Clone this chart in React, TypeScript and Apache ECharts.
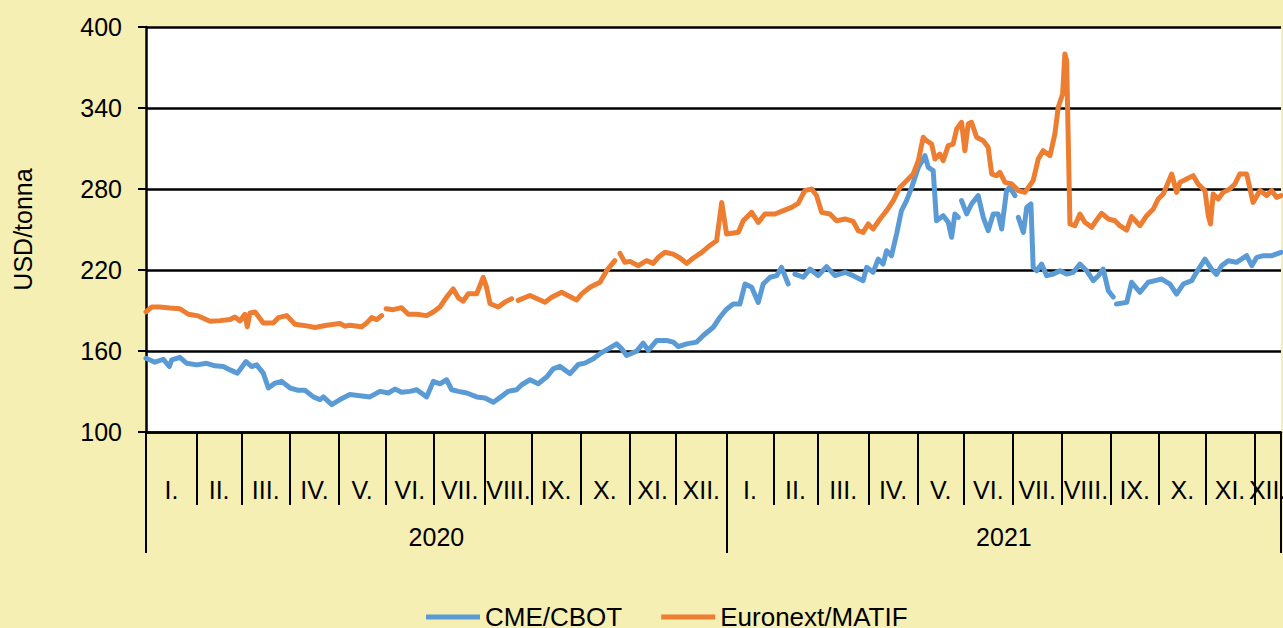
import React, { useEffect, useRef } from "react";
import * as echarts from "echarts";

// Weekdays per month, Jan 2020 .. mid-Dec 2021 (x axis unit = trading day)
const monthDays = [23, 20, 22, 22, 21, 22, 23, 21, 22, 22, 21, 23, 21, 20, 23, 22, 21, 22, 22, 22, 22, 21, 22, 12];
const monthNames = ["I.", "II.", "III.", "IV.", "V.", "VI.", "VII.", "VIII.", "IX.", "X.", "XI.", "XII."];
const years = ["2020", "2021"];
const yTicks = [100, 160, 220, 280, 340, 400];

// [trading day, USD/tonna]; null marks a break in the line
const cmeCbot: (number | null)[][] = [
  [0, 154.6], [4.1, 151.7], [7.8, 153.9], [10.5, 148.5], [11.6, 153.4], [15.3, 155.3], [18.4, 150.9], [22.9, 149.7],
  [27.4, 150.9], [31.1, 149], [34.9, 148.5], [37.9, 146], [41.2, 143.6], [45.1, 152.2], [47.7, 148.5], [49.9, 149.7],
  [52.9, 143.6], [55.2, 132.6], [58.2, 136.2], [61.2, 137.5], [65, 132.6], [68.7, 130.9], [71.7, 130.9], [75.5, 126],
  [78.5, 124], [80, 126], [83.8, 120.3], [87.5, 124], [92, 127.7], [96.5, 126.9], [101, 126], [105.5, 130.1],
  [109.3, 128.9], [112.3, 131.8], [115.3, 129.4], [119.1, 130.1], [122.1, 131.3], [126.6, 126], [129.6, 137.5],
  [132.6, 135.7], [135.6, 138.7], [137.9, 131.3], [140.9, 130.1], [144.7, 128.9], [149.2, 126], [152.9, 125.2],
  [156.7, 122], [160.4, 126.4], [163.4, 130.1], [167.2, 131.3], [169.5, 135], [173.2, 138.7], [176.9, 135.8],
  [180.7, 140.7], [183.7, 146.8], [186.7, 148.6], [191.3, 143.2], [195, 150], [198, 151], [201.8, 154.2],
  [204.8, 158], [208.5, 161.6], [212.3, 165.3], [214.6, 161.6], [216.8, 156.7], [221.3, 159.9], [224.3, 165.8],
  [226.6, 160.4], [230.4, 167.8], [234.9, 167.8], [237.9, 166.6], [240.1, 163.3], [243.9, 165.3], [248.4, 166.6],
  [251.4, 171.5], [255.9, 177.6], [258.9, 185], [261.9, 191], [264.9, 194.8], [267.9, 194.8], [270.2, 209.6],
  [273.2, 207.2], [276.2, 196], [278.4, 209.6], [281.5, 214.6], [284.5, 215.8], [286.7, 222], [289.7, 209.6],
  [291.2, null],
  [292.7, 217], [296.5, 214.6], [299.5, 220.7], [303.2, 215.8], [307, 222.5], [310.8, 215.8], [315.3, 218.3],
  [319, 215.8], [323.5, 212.1], [325.1, 222], [328, 218.3], [330.3, 228.1], [332.5, 224.4], [334.1, 234.3],
  [336.3, 230.6], [338.6, 246.7], [340.8, 264], [343.1, 271.4], [345.4, 281.2], [348.4, 296], [351.4, 304.7],
  [352.9, 296], [355.1, 293.6], [356.6, 256.5], [359.6, 260.2], [361.9, 255.3], [363.4, 244.2], [364.9, 261.5],
  [366.4, 259],
  [367.1, null],
  [367.9, 271.4], [370.2, 261.5], [372.4, 268.9], [375.4, 275.1], [377.7, 259], [379.9, 249.1], [382.2, 261.5],
  [384.4, 261.5], [386, 250.4], [388.2, 278.8], [389.7, 281.2], [392, 275.1],
  [392.7, null],
  [393.5, 259], [395.8, 247.9], [397.3, 266.4], [399.2, 268.9], [400.2, 222], [401.8, 219.5], [404, 224.4],
  [406.3, 215.8], [409.3, 217], [412.3, 219.5], [415.3, 217], [418.3, 218.3], [421.3, 224.4], [424.3, 219.5],
  [427.3, 212.1], [429.6, 215.8], [431.8, 220.7], [434.1, 204.7], [436.3, 200],
  [437, null],
  [437.8, 194.8], [442.4, 196], [444.6, 210.9], [448.4, 203.5], [452.1, 210.9], [455.2, 212.1], [458.2, 213.3],
  [461.9, 209.6], [464.9, 202.2], [467.9, 209.6], [471.7, 212.1], [473.9, 218.3], [477.7, 228.1], [480.7, 220.7],
  [482.9, 216.7], [485.2, 223.2], [488.2, 226.9], [491.9, 225.7], [496.5, 230.6], [498.8, 223.2], [501.1, 229.4],
  [504.1, 230.6], [507.9, 230.6], [512, 233.1],
];

const euronextMatif: (number | null)[][] = [
  [0, 189], [2.6, 192.6], [6.3, 192.6], [10.8, 191.8], [15.3, 191.3], [19.1, 187.2], [23.6, 186], [28.9, 182],
  [33.4, 182.5], [37.9, 183.3], [40.1, 185.2], [42.4, 182.3], [44.6, 187.2], [45.7, 178], [46.9, 188.2],
  [49.2, 188.9], [52.9, 180.8], [57.4, 180.8], [59.7, 184.7], [63.5, 186.2], [67.2, 179.8], [72.5, 178.6],
  [76.2, 177.4], [81.5, 179.1], [87.5, 180.3], [89.8, 178.4], [92, 179.1], [97.3, 177.9], [99.6, 180.8],
  [101.8, 184.7], [104.1, 183.3], [106.3, 186.2],
  [107.3, null],
  [108.3, 191.3], [111.5, 190.6], [115.3, 192.1], [118.3, 187.2], [122.1, 187.2], [126.6, 186.2], [129.6, 188.9],
  [132.6, 192.6], [135.6, 199.9], [138.6, 206], [140.9, 199.4], [143.1, 197], [145.4, 202.4], [149.2, 202.4],
  [152.1, 214.6], [153.6, 207.3], [155.2, 195], [158.9, 192.6], [161.9, 196.2], [164.9, 198.7],
  [166.4, null],
  [167.9, 197.5], [173.2, 201.1], [180, 196.1], [183, 199.8], [187.5, 203.5], [190.5, 201], [194.3, 197.8],
  [196.5, 202.3], [200.3, 207.2], [204.8, 210.9], [207.8, 219.5], [211.5, 226.9],
  [212.6, null],
  [213.8, 232.3], [216, 225.7], [218.3, 226.4], [222.1, 223.2], [225.8, 226.9], [228.8, 224.9], [231.1, 229.4],
  [234.1, 233.1], [237.8, 231.8], [240.9, 228.9], [243.9, 224.9], [246.9, 228.9], [250.7, 233.1], [253.6, 237.2],
  [257.4, 241.7], [259.7, 270], [261.9, 246.6], [267.2, 247.9], [269.4, 256.5], [273.2, 262.7], [276.2, 255.3],
  [279.2, 261.5], [283.7, 261.5], [287.5, 264], [291.2, 266.4], [294.2, 269.4], [297.2, 278.8], [300.3, 280],
  [302.5, 275.1], [304.8, 262.7], [308.5, 261.5], [311.5, 256.5], [315.3, 257.8], [319, 256], [321.3, 249.1],
  [323.5, 247.9], [325.8, 254.1], [328, 250.4], [331.1, 257.8], [334.1, 264], [337.1, 271.4], [340.1, 281.2],
  [343.1, 286.2], [346.1, 291.1], [348.4, 301], [350.6, 318.3], [352.1, 315.8], [354.4, 313.3], [355.9, 302.2],
  [358.1, 305.9], [359.6, 301], [361.9, 312.1], [364.1, 313.3], [365.7, 324.4], [367.9, 329.4], [369.4, 308.4],
  [370.9, 328.1], [372.4, 329.4], [374.7, 318.3], [377.7, 315.8], [379.9, 310.9], [381.5, 291.1], [383.7, 289.9],
  [385.2, 292.3], [387.5, 284.9], [390.5, 283.7], [393.5, 278.8], [396.5, 277.5], [400.2, 286.2], [402.5, 302.2],
  [404.7, 308.4], [407.8, 304.7], [410, 320.7], [411.5, 340.5], [413.5, 350.4], [414.5, 380], [415.3, 375],
  [416.8, 254.1], [419, 252.8], [421.3, 261.5], [423.5, 255.3], [426.6, 251.6], [428.1, 255.3], [431.1, 262],
  [434.1, 257.8], [437.1, 256.5], [439.3, 252.8], [442.4, 249.6], [444.6, 259.5], [448.4, 252.8], [451.4, 260.2],
  [454.4, 265.2], [456.6, 272.6], [458.9, 276.3], [461.1, 284.9], [462.7, 291.1], [464.9, 277.5], [466.4, 284.9],
  [469.4, 287.4], [472.4, 289.9], [474.6, 283.7], [477.7, 278.8], [479.2, 260.2], [480.2, 254.1], [481.4, 276.3],
  [483.7, 272.6], [485.9, 277.5], [488.9, 280], [491.2, 283.7], [493.4, 291.1], [496.5, 291.1], [499.4, 270.1],
  [502.5, 278.8], [505.5, 275.1], [507.8, 278.8], [510, 273.8], [512, 275.1],
];

const FONT = "'Liberation Sans', Arial, sans-serif";

export default function App() {
  const ref = useRef<HTMLDivElement>(null);
  useEffect(() => {
    document.body.style.margin = "0";
    if (!ref.current) return;
    const chart = echarts.init(ref.current, null, { renderer: "svg" });

    const starts: number[] = [];
    let acc = 0;
    monthDays.forEach((d) => { starts.push(acc); acc += d; });
    const total = acc;
    const mids = monthDays.map((d, i) => starts[i] + d / 2);
    const midLabel: Record<string, string> = {};
    mids.forEach((m, i) => { midLabel[String(m)] = monthNames[i % 12]; });
    const yearStart = [0, starts[12], total];
    const yearMids = [(yearStart[0] + yearStart[1]) / 2, (yearStart[1] + yearStart[2]) / 2];
    const yearLabel: Record<string, string> = {};
    yearMids.forEach((m, i) => { yearLabel[String(m)] = years[i]; });

    chart.setOption({
      animation: false,
      backgroundColor: "#F5EFB3",
      textStyle: { fontFamily: FONT },
      grid: {
        left: 146, right: 2, top: 27, bottom: 196,
        show: true, backgroundColor: "#ffffff", borderWidth: 0,
        containLabel: false, outerBoundsMode: "none",
      },
      legend: {
        left: 421,
        top: 599,
        itemWidth: 54,
        itemHeight: 5,
        itemGap: 39,
        icon: "rect",
        textStyle: { fontSize: 26, color: "#000", fontFamily: FONT },
        data: ["CME/CBOT", "Euronext/MATIF"],
      },
      xAxis: [
        {
          type: "value",
          min: 0,
          max: total,
          position: "bottom",
          axisLine: { onZero: false, lineStyle: { color: "#000", width: 2.5 } },
          axisTick: { show: true, customValues: starts.concat([total]), length: 73, lineStyle: { color: "#000", width: 2 } },
          axisLabel: {
            customValues: mids,
            formatter: (v: number) => midLabel[String(v)] || "",
            margin: 45,
            fontSize: 25,
            color: "#000",
            fontFamily: FONT,
          },
          splitLine: { show: false },
        },
        {
          type: "value",
          min: 0,
          max: total,
          position: "bottom",
          axisLine: { show: false, onZero: false },
          axisTick: { show: true, customValues: yearStart, length: 121, lineStyle: { color: "#000", width: 2 } },
          axisLabel: {
            customValues: yearMids,
            formatter: (v: number) => yearLabel[String(v)] || "",
            margin: 92,
            fontSize: 25,
            color: "#000",
            fontFamily: FONT,
          },
          splitLine: { show: false },
        },
      ],
      yAxis: {
        type: "value",
        min: yTicks[0],
        max: yTicks[yTicks.length - 1],
        interval: yTicks[1] - yTicks[0],
        name: "USD/tonna",
        nameLocation: "middle",
        nameGap: 111,
        nameTextStyle: { fontSize: 25, color: "#000", fontFamily: FONT },
        axisLine: { show: true, lineStyle: { color: "#000", width: 2.5 } },
        axisTick: { show: true, length: 8, lineStyle: { color: "#000", width: 2 } },
        axisLabel: { fontSize: 25, color: "#000", margin: 24, fontFamily: FONT },
        splitLine: { show: true, lineStyle: { color: "#000", width: 2.5 } },
      },
      series: [
        {
          name: "CME/CBOT",
          type: "line",
          xAxisIndex: 0,
          showSymbol: false,
          symbol: "none",
          connectNulls: false,
          color: "#5B9BD5",
          lineStyle: { color: "#5B9BD5", width: 5, cap: "round", join: "round" },
          data: cmeCbot,
        },
        {
          name: "Euronext/MATIF",
          type: "line",
          xAxisIndex: 0,
          showSymbol: false,
          symbol: "none",
          connectNulls: false,
          color: "#ED7D31",
          lineStyle: { color: "#ED7D31", width: 5, cap: "round", join: "round" },
          data: euronextMatif,
        },
      ],
    });
    return () => chart.dispose();
  }, []);
  return <div ref={ref} style={{ width: 1283, height: 628 }} />;
}
